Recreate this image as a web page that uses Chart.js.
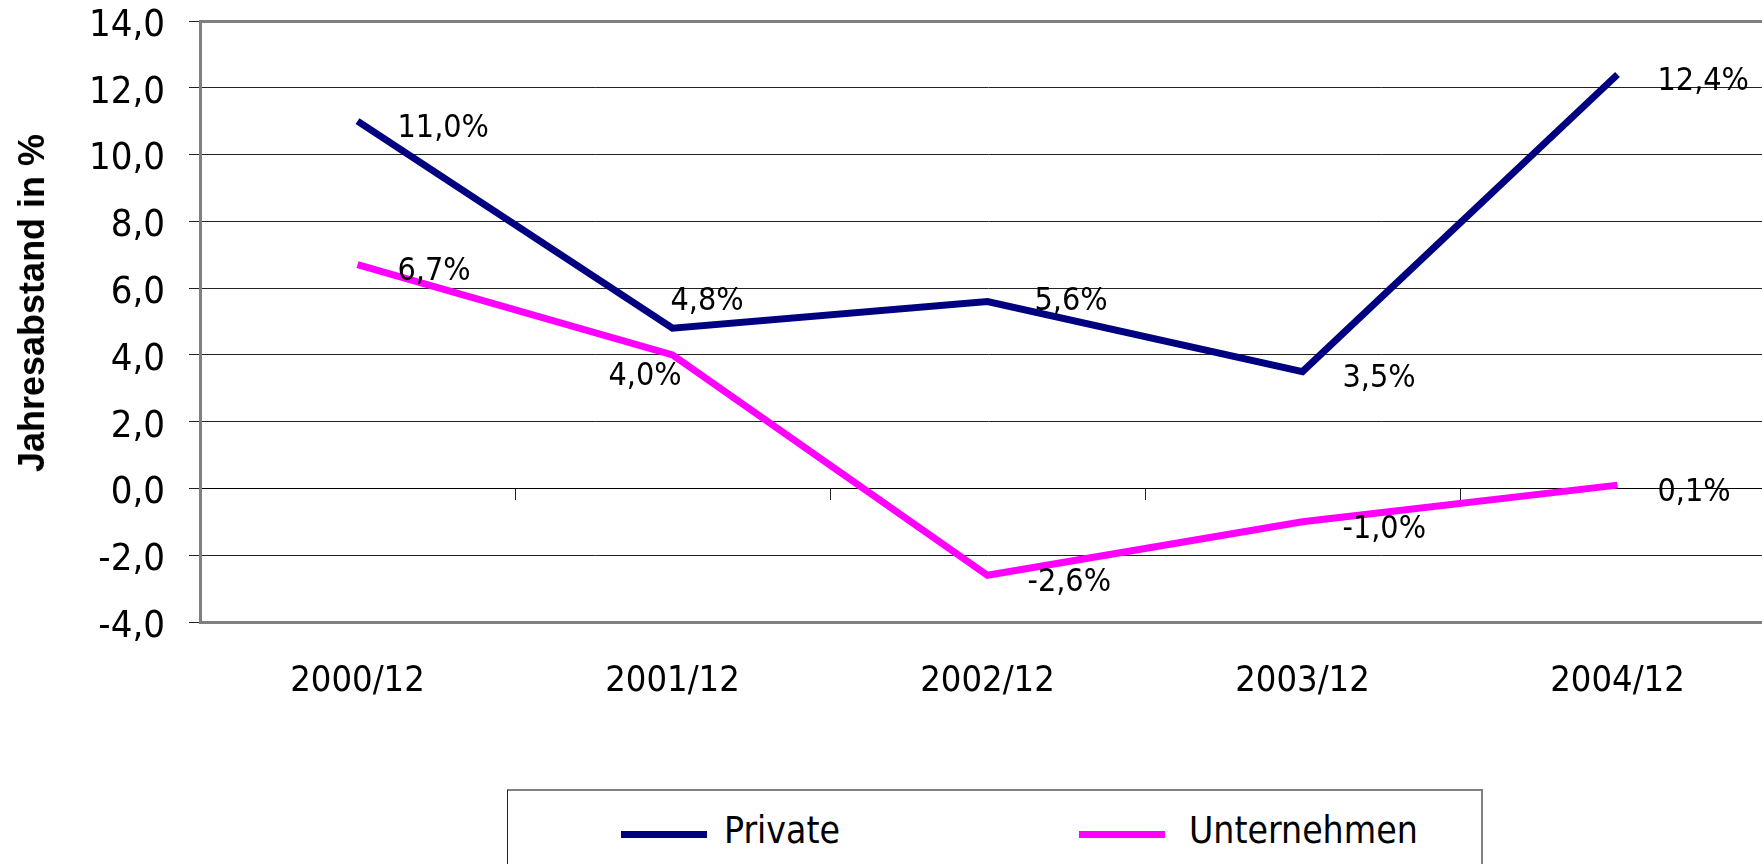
<!DOCTYPE html>
<html>
<head>
<meta charset="utf-8">
<script src="https://cdn.jsdelivr.net/npm/chart.js@4.4.1/dist/chart.umd.min.js"></script>
<style>
  html, body { margin: 0; padding: 0; overflow: hidden; background: #fff; width: 1762px; height: 864px; }
  #wrap { position: relative; width: 1790px; height: 864px; }
  #c { display: block; }
  #ytitle { position: absolute; left: 32px; top: 303px; transform: translate(-50%, -50%) rotate(-90deg);
            font: bold 36px/40px 'Liberation Sans', Arial, sans-serif; color: #000; white-space: nowrap; }
  #legend { position: absolute; left: 507px; top: 789px; width: 976px; height: 130px;
            box-sizing: border-box; border: 2px solid #7f7f7f; border-left: 1.5px solid #222; background: #fff; }
  .lg-line { position: absolute; top: 40px; width: 86px; height: 7px; }
  .lg-text { position: absolute; top: 21px; font: 37px/37px 'Liberation Sans Narrow', 'DejaVu Sans Condensed', sans-serif; color: #000; white-space: nowrap; }
</style>
</head>
<body>
<div id="wrap">
  <canvas id="c" width="1790" height="864"></canvas>
  <div id="ytitle"></div>
  <div id="legend"></div>
</div>
<script>
// ---- data ----
const categories = ['2000/12', '2001/12', '2002/12', '2003/12', '2004/12'];
const privateValues = [11.0, 4.8, 5.6, 3.5, 12.4];
const unternehmenValues = [6.7, 4.0, -2.6, -1.0, 0.1];
const seriesNames = ['Private', 'Unternehmen'];
const seriesColors = ['#000080', '#FF00FF'];
const yMin = -4, yMax = 14, yStep = 2;
const axisTitle = 'Jahresabstand in %';

// ---- style ----
const NARROW = "'Liberation Sans Narrow', 'DejaVu Sans Condensed', sans-serif";
const LABEL_SIZE = 32;
const labelOffsetDefault = { dx: 40, dy: 4 };
const labelOffsetOverrides = { '0-1': { dx: -2, dy: -30 }, '0-2': { dx: 47, dy: -3 }, '1-1': { dx: -64, dy: 18 } };
const legendLineLeft = [113, 571];
const legendTextLeft = [216, 681];

const fmt = v => Number(v).toFixed(1).replace('.', ',');

const dataLabels = {
  id: 'dataLabels',
  afterDatasetsDraw(chart) {
    const ctx = chart.ctx;
    ctx.save();
    ctx.font = LABEL_SIZE + 'px ' + NARROW;
    ctx.fillStyle = '#000';
    ctx.textAlign = 'left';
    ctx.textBaseline = 'alphabetic';
    chart.data.datasets.forEach((ds, di) => {
      const meta = chart.getDatasetMeta(di);
      meta.data.forEach((pt, i) => {
        const o = labelOffsetOverrides[di + '-' + i] || labelOffsetDefault;
        ctx.fillText(fmt(ds.data[i]) + '%', pt.x + o.dx, pt.y + o.dy + LABEL_SIZE * 0.365);
      });
    });
    ctx.restore();
  }
};

const seriesData = [privateValues, unternehmenValues];

new Chart(document.getElementById('c'), {
  type: 'line',
  data: {
    labels: categories,
    datasets: seriesNames.map((name, i) => ({
      label: name,
      data: seriesData[i],
      borderColor: seriesColors[i],
      backgroundColor: seriesColors[i],
      borderWidth: 7,
      pointRadius: 0,
      pointHoverRadius: 0,
      tension: 0,
      fill: false,
      borderJoinStyle: 'miter',
      borderCapStyle: 'butt'
    }))
  },
  options: {
    responsive: false,
    animation: false,
    devicePixelRatio: 1,
    layout: { padding: { top: 21, right: 15, left: 0, bottom: 0 } },
    plugins: { legend: { display: false }, tooltip: { enabled: false } },
    scales: {
      x: {
        type: 'category',
        position: 'bottom',
        offset: true,
        grid: { display: false, drawTicks: false },
        border: { display: true, color: '#808080', width: 3 },
        ticks: { font: { family: NARROW, size: 36 }, color: '#000', padding: 38, maxRotation: 0, autoSkip: false },
        afterFit: s => { s.height = 242; }
      },
      x2: {
        type: 'category',
        position: { y: 0 },
        offset: true,
        grid: { offset: true, drawOnChartArea: false, drawTicks: true, tickLength: 11, tickColor: '#222', tickWidth: 1, color: '#222' },
        border: { display: true, color: '#000', width: 1 },
        ticks: { display: false },
        afterFit: s => { s.height = 0; }
      },
      y: {
        min: yMin,
        max: yMax,
        ticks: { stepSize: yStep, callback: v => ['', fmt(v)], font: { family: NARROW, size: 38, lineHeight: '10px' }, color: '#000', padding: 24 },
        grid: {
          color: c => (c.tick && (c.tick.value === yMax || c.tick.value === yMin)) ? '#808080' : '#222',
          lineWidth: c => (c.tick && (c.tick.value === yMax || c.tick.value === yMin)) ? 3 : 1,
          tickLength: 11, tickColor: '#222', tickWidth: 1, drawTicks: true
        },
        border: { display: true, color: '#808080', width: 3 },
        afterFit: s => { s.width = 200; s.paddingTop = 0; s.paddingBottom = 0; }
      }
    }
  },
  plugins: [dataLabels]
});

document.getElementById('ytitle').textContent = axisTitle;

// HTML legend built from the series arrays
const legendEl = document.getElementById('legend');
seriesNames.forEach((name, i) => {
  const line = document.createElement('div');
  line.className = 'lg-line';
  line.style.left = legendLineLeft[i] + 'px';
  line.style.background = seriesColors[i];
  legendEl.appendChild(line);
  const txt = document.createElement('div');
  txt.className = 'lg-text';
  txt.style.left = legendTextLeft[i] + 'px';
  txt.textContent = name;
  legendEl.appendChild(txt);
});
</script>
</body>
</html>
